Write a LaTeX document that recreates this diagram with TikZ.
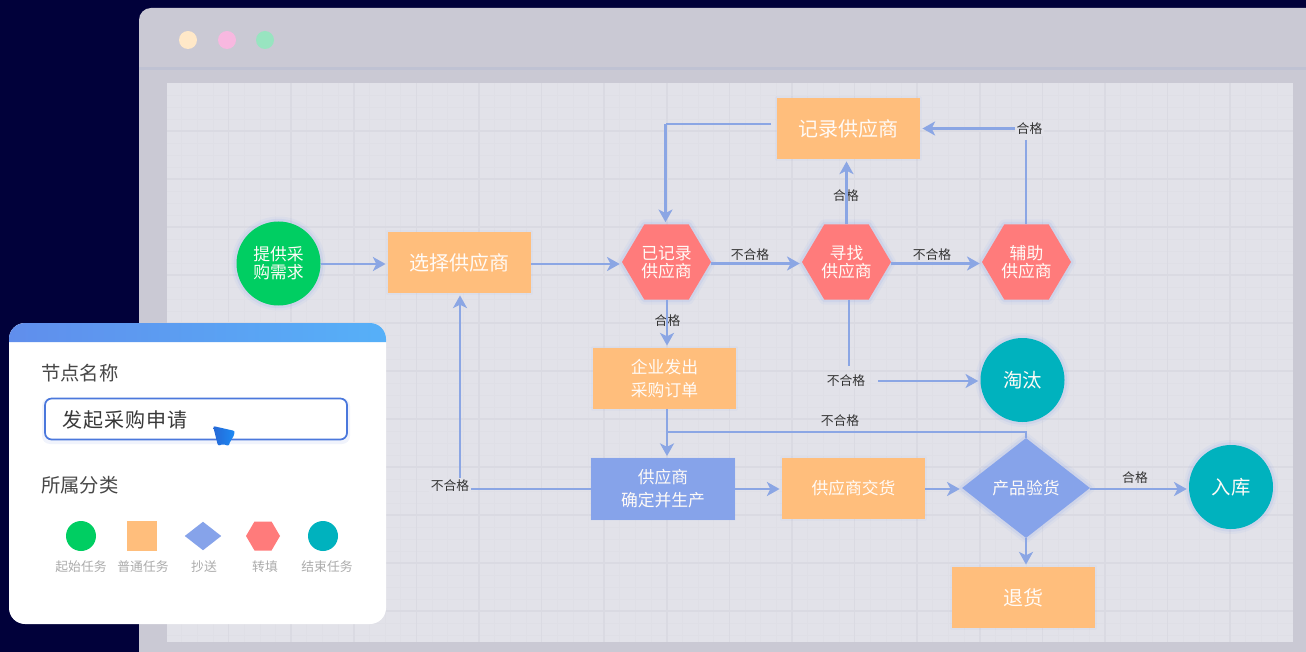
\documentclass[tikz,border=0pt]{standalone}
\usepackage{fontspec}
\setmainfont{Noto Sans CJK SC}
\usetikzlibrary{arrows.meta,shapes.geometric,calc}
\definecolor{bgnavy}{HTML}{01013A}
\definecolor{winc}{HTML}{CAC9D4}
\definecolor{sepc}{HTML}{BFC2D3}
\definecolor{canvasc}{HTML}{E2E2E9}
\definecolor{gridminor}{HTML}{DFDFE6}
\definecolor{gridmajor}{HTML}{DADAE2}
\definecolor{linec}{HTML}{8BA6E4}
\definecolor{orangec}{HTML}{FFBE7C}
\definecolor{bluec}{HTML}{86A3EA}
\definecolor{redc}{HTML}{FF7B7B}
\definecolor{greenc}{HTML}{00CE62}
\definecolor{tealc}{HTML}{00B2BE}
\definecolor{inputc}{HTML}{4B78DC}
\definecolor{dotA}{HTML}{FFE8C8}
\definecolor{dotB}{HTML}{F8B8E0}
\definecolor{dotC}{HTML}{98E4C0}
\definecolor{headA}{HTML}{608EEC}
\definecolor{headB}{HTML}{5E98EE}
\definecolor{headC}{HTML}{56B0F8}
\definecolor{curA}{HTML}{2668D6}
\definecolor{curB}{HTML}{1C8AF4}
\newcommand\fsz[1]{\fontsize{#1}{#1}\selectfont}
\tikzset{
  glow/.style={preaction={draw=bluec,line width=7.5pt,opacity=.08,line join=round},
               preaction={draw=bluec,line width=4pt,opacity=.14,line join=round}},
  softglow/.style={preaction={draw=bluec,line width=2.5pt,opacity=.06,line join=round}},
  boxtext/.style={text=white!94!orangec,align=center,font=\fsz{12.6pt},inner sep=0pt},
  rectbox/.style={boxtext,rectangle,fill=orangec,softglow,minimum width=107.5pt,minimum height=46pt},
  bluebox/.style={rectbox,fill=bluec},
  roundbox/.style={boxtext,circle,glow,minimum size=63pt},
  startc/.style={roundbox,fill=greenc},
  endc/.style={roundbox,fill=tealc,font=\fsz{14.5pt}},
  hexbox/.style={boxtext,rectangle},
  diabox/.style={boxtext,diamond,fill=bluec,glow,aspect=1.27,minimum width=96pt,minimum height=75pt},
  flow/.style={draw=linec,line width=2.1pt,-{Stealth[length=9.5pt,width=10.5pt,inset=2.6pt]},shorten >=1.5pt},
  plain/.style={draw=linec,line width=2.1pt},
  lab/.style={text=black!80,font=\fsz{9.6pt},inner sep=0pt},
  labfill/.style={lab,fill=canvasc,inner sep=1pt},
  paneltitle/.style={text=black!72,font=\fsz{14.5pt},inner sep=0pt,anchor=west},
  iconlab/.style={text=black!33,font=\fsz{9.6pt},inner sep=0pt}
}
\newcommand\hexnode[7]{%
  \path[shift={(#2,#3)},fill=redc,#6] (-#4/2,0) -- (-#4/4,-#5/2) -- (#4/4,-#5/2) -- (#4/2,0) -- (#4/4,#5/2) -- (-#4/4,#5/2) -- cycle;
  \node[hexbox,minimum width=#4*0.75pt,minimum height=#5*0.75pt] (#1) at (#2,#3) {#7};%
}
\begin{document}
\begin{tikzpicture}[x=0.75pt,y=-0.75pt]
\useasboundingbox (0,0) rectangle (1306,652);
\fill[bgnavy] (0,0) rectangle (1306,652);
% window
\begin{scope}
\clip (0,0) rectangle (1306,652);
\fill[winc,rounded corners=9pt] (139,8) rectangle (1330,680);
\end{scope}
\draw[sepc,line width=1.6pt] (139,68.5) -- (1306,68.5);
\fill[dotA] (188,40) circle (9);
\fill[dotB] (227,40) circle (9);
\fill[dotC] (265,40) circle (9);
% canvas and grid
\fill[canvasc] (167,83) rectangle (1293,642);
\foreach \i in {1,...,71} {\draw[gridminor,line width=.6pt] ({166+15.65*\i},83) -- ({166+15.65*\i},642);}
\foreach \i in {1,...,46} {\draw[gridminor,line width=.6pt] (167,{83+12*\i}) -- (1293,{83+12*\i});}
\foreach \i in {1,...,17} {\draw[gridmajor,line width=1.1pt] ({166+62.6*\i},83) -- ({166+62.6*\i},642);}
\foreach \i in {1,...,11} {\draw[gridmajor,line width=1.1pt] (167,{83+48*\i}) -- (1293,{83+48*\i});}
% nodes
\node[startc] (need) at (278.5,263.5) {提供采\\[1pt]购需求};
\node[rectbox,font=\fsz{15pt}] (choose) at (459.5,262.5) {选择供应商};
\hexnode{rec}{666.5}{262}{89}{75}{glow}{已记录\\[1pt]供应商}
\hexnode{seek}{846.5}{262}{89}{75}{glow}{寻找\\[1pt]供应商}
\hexnode{aid}{1026.5}{262}{89}{75}{glow}{辅助\\[1pt]供应商}
\node[rectbox,font=\fsz{15pt}] (log) at (848.5,128.5) {记录供应商};
\node[rectbox] (order) at (664.5,378.5) {企业发出\\[4.5pt]采购订单};
\node[bluebox] (make) at (663,489) {供应商\\[4.5pt]确定并生产};
\node[rectbox] (deliver) at (853.5,488.5) {供应商交货};
\node[diabox] (check) at (1026,488) {产品验货};
\node[rectbox,font=\fsz{15pt}] (back) at (1023.5,597.5) {退货};
\node[endc] (out) at (1022.5,380) {淘汰};
\node[endc] (store) at (1231,487) {入库};
% labels
\node[lab] (l1) at (750,254.5) {不合格};
\node[lab] (l2) at (932,254.5) {不合格};
\node[lab] (l3) at (846,195.5) {合格};
\node[labfill] (l4) at (1029.5,128.5) {合格};
\node[lab] (l5) at (667.5,321) {合格};
\node[labfill] (l6) at (846,381) {不合格};
\node[lab] (l7) at (840,421) {不合格};
\node[labfill] (l8) at (450,486) {不合格};
\node[lab] (l9) at (1135,478) {合格};
% connectors
\coordinate (t1) at (665.5,124);
\coordinate (t2) at (1026,140);
\coordinate (t3) at (460,489);
\coordinate (t4) at (667,432);
\coordinate (t5) at (1026,432);
\coordinate (j1) at (849,366);
\coordinate (j2) at (878,381);
\coordinate (j3) at (771,124);
\draw[flow] (need.east |- 0,264) -- (choose.west |- 0,264);
\draw[flow] (choose.east |- 0,264) -- (rec.west |- 0,264);
\draw[flow] (rec.east |- 0,263.5) -- (seek.west |- 0,263.5);
\draw[flow] (seek.east |- 0,263.5) -- (aid.west |- 0,263.5);
\draw[flow] (seek.north) -- (seek.north |- log.south);
\draw[plain] (t2 |- aid.north) -- (t2);
\draw[flow] (l4.west) -- (log.east |- l4.west);
\draw[plain] (j3) -- (t1);
\draw[flow] (t1) -- (t1 |- rec.north);
\draw[flow] (t4 |- rec.south) -- (t4 |- order.north);
\draw[plain] (j1 |- seek.south) -- (j1);
\draw[flow] (j2) -- (out.west |- j2);
\draw[flow] (t4 |- order.south) -- (t4 |- make.north);
\draw[plain] (t5 |- check.north) -- (t5) -- (t4);
\draw[plain] (make.west |- t3) -- (l8.east |- t3);
\draw[flow] (t3 |- l8.north) -- (t3 |- choose.south);
\draw[flow] (make.east |- t3) -- (deliver.west |- t3);
\draw[flow] (deliver.east |- t3) -- (check.west |- t3);
\draw[flow] (check.east |- t3) -- (store.west |- t3);
\draw[flow] (t5 |- check.south) -- (t5 |- back.north);
% panel
\fill[white,rounded corners=12pt] (9,323) rectangle (386,624);
\shade[left color=headA,middle color=headB,right color=headC]
  (9,342) [rounded corners=12pt] -- (9,323) -- (386,323) [sharp corners] -- (386,342) -- cycle;
\node[paneltitle] (pt1) at (41,373) {节点名称};
\fill[bluec,opacity=.12,rounded corners=6pt] (42,398) rectangle (350,444);
\draw[inputc,fill=white,line width=1.3pt,rounded corners=5pt] (45,398.5) rectangle (347,439.5);
\node[paneltitle,font=\fsz{15pt},text=black!78] (inp) at (62,420) {发\hspace{.8pt}起\hspace{.8pt}采\hspace{.8pt}购\hspace{.8pt}申\hspace{.8pt}请};
\node[paneltitle] (pt2) at (41,485) {所属分类};
\shade[left color=curA,right color=curB,rounded corners=1.5pt]
  (213,426) -- (235,431) -- (233,438) -- (230,441) -- (229,446) -- (223,444) -- (218,446) -- cycle;
\node[circle,fill=greenc,minimum size=22.5pt,inner sep=0pt] (i1) at (81,536) {};
\node[rectangle,fill=orangec,minimum size=22pt,inner sep=0pt] (i2) at (142,536) {};
\node[diamond,fill=bluec,minimum width=27.5pt,minimum height=21.5pt,aspect=1.27,inner sep=0pt] (i3) at (203,536) {};
\hexnode{i4}{263}{536}{34}{29}{}{}
\node[circle,fill=tealc,minimum size=22.5pt,inner sep=0pt] (i5) at (323,536) {};
\node[iconlab] (n1) at (81,567) {起始任务};
\node[iconlab] (n2) at (143,567) {普通任务};
\node[iconlab] (n3) at (204,567) {抄送};
\node[iconlab] (n4) at (265,567) {转填};
\node[iconlab] (n5) at (327,567) {结束任务};
\end{tikzpicture}
\end{document}
